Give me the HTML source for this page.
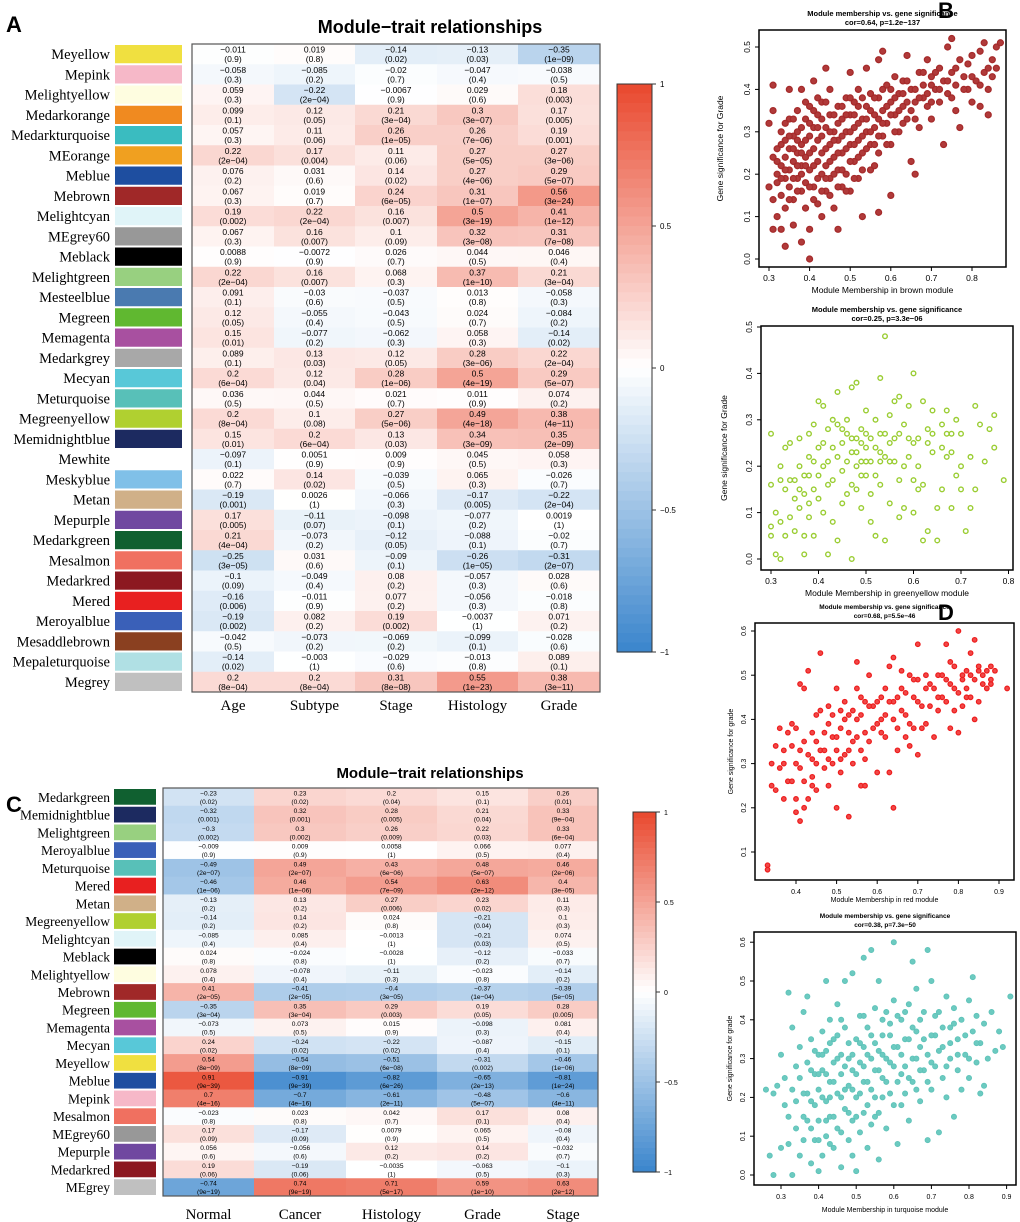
<!DOCTYPE html>
<html><head><meta charset="utf-8">
<style>
html,body{margin:0;padding:0;background:#fff;}
svg{display:block;font-family:"Liberation Sans",Arial,sans-serif;}
</style></head>
<body>
<svg id="fig" width="1020" height="1222" viewBox="0 0 1020 1222" xmlns="http://www.w3.org/2000/svg">
<rect width="1020" height="1222" fill="#fff"/>
<text x="6" y="32" font-size="22" font-weight="bold">A</text>
<text x="938" y="18" font-size="22" font-weight="bold">B</text>
<text x="6" y="812" font-size="22" font-weight="bold">C</text>
<text x="938" y="620" font-size="22" font-weight="bold">D</text>
<g id="gA"></g>
<g id="gC"></g>
<g id="gS"></g>
</svg>
<script>
// ---------- Panel A data ----------
const aModules=["Meyellow","Mepink","Melightyellow","Medarkorange","Medarkturquoise","MEorange","Meblue","Mebrown","Melightcyan","MEgrey60","Meblack","Melightgreen","Mesteelblue","Megreen","Memagenta","Medarkgrey","Mecyan","Meturquoise","Megreenyellow","Memidnightblue","Mewhite","Meskyblue","Metan","Mepurple","Medarkgreen","Mesalmon","Medarkred","Mered","Meroyalblue","Mesaddlebrown","Mepaleturquoise","Megrey"];
const aSwatches=["#f0e040","#f6b8c8","#fefde0","#f08a20","#3abcc0","#f0a020","#1e4ea0","#a02828","#e0f4f8","#989898","#000000","#98d080","#4a7ab0","#60b830","#a850a0","#a8a8a8","#58c8d8","#58c0b8","#b0d030","#1c2a60","#ffffff","#80c0e8","#d0b088","#7048a0","#106030","#f07060","#8c1820","#e82020","#3a60b8","#8a4020","#b0e0e4","#c0c0c0"];
const aTraits=["Age","Subtype","Stage","Histology","Grade"];
const aCor=[
[-0.011,0.019,-0.14,-0.13,-0.35],[-0.058,-0.085,-0.02,-0.047,-0.038],[0.059,-0.22,-0.0067,0.029,0.18],[0.099,0.12,0.21,0.3,0.17],
[0.057,0.11,0.26,0.26,0.19],[0.22,0.17,0.11,0.27,0.27],[0.076,0.031,0.14,0.27,0.29],[0.067,0.019,0.24,0.31,0.56],
[0.19,0.22,0.16,0.5,0.41],[0.067,0.16,0.1,0.32,0.31],[0.0088,-0.0072,0.026,0.044,0.046],[0.22,0.16,0.068,0.37,0.21],
[0.091,-0.03,-0.037,0.013,-0.058],[0.12,-0.055,-0.043,0.024,-0.084],[0.15,-0.077,-0.062,0.058,-0.14],[0.089,0.13,0.12,0.28,0.22],
[0.2,0.12,0.28,0.5,0.29],[0.036,0.044,0.021,0.011,0.074],[0.2,0.1,0.27,0.49,0.38],[0.15,0.2,0.13,0.34,0.35],
[-0.097,0.0051,0.009,0.045,0.058],[0.022,0.14,-0.039,0.065,-0.026],[-0.19,0.0026,-0.066,-0.17,-0.22],[0.17,-0.11,-0.098,-0.077,0.0019],
[0.21,-0.073,-0.12,-0.088,-0.02],[-0.25,0.031,-0.09,-0.26,-0.31],[-0.1,-0.049,0.08,-0.057,0.028],[-0.16,-0.011,0.077,-0.056,-0.018],
[-0.19,0.082,0.19,-0.0037,0.071],[-0.042,-0.073,-0.069,-0.099,-0.028],[-0.14,-0.003,-0.029,-0.013,0.089],[0.2,0.2,0.31,0.55,0.38]];
const aP=[
["0.9","0.8","0.02","0.03","1e-09"],["0.3","0.2","0.7","0.4","0.5"],["0.3","2e-04","0.9","0.6","0.003"],["0.1","0.05","3e-04","3e-07","0.005"],
["0.3","0.06","1e-05","7e-06","0.001"],["2e-04","0.004","0.06","5e-05","3e-06"],["0.2","0.6","0.02","4e-06","5e-07"],["0.3","0.7","6e-05","1e-07","3e-24"],
["0.002","2e-04","0.007","3e-19","1e-12"],["0.3","0.007","0.09","3e-08","7e-08"],["0.9","0.9","0.7","0.5","0.4"],["2e-04","0.007","0.3","1e-10","3e-04"],
["0.1","0.6","0.5","0.8","0.3"],["0.05","0.4","0.5","0.7","0.2"],["0.01","0.2","0.3","0.3","0.02"],["0.1","0.03","0.05","3e-06","2e-04"],
["6e-04","0.04","1e-06","4e-19","5e-07"],["0.5","0.5","0.7","0.9","0.2"],["8e-04","0.08","5e-06","4e-18","4e-11"],["0.01","6e-04","0.03","3e-09","2e-09"],
["0.1","0.9","0.9","0.5","0.3"],["0.7","0.02","0.5","0.3","0.7"],["0.001","1","0.3","0.005","2e-04"],["0.005","0.07","0.1","0.2","1"],
["4e-04","0.2","0.05","0.1","0.7"],["3e-05","0.6","0.1","1e-05","2e-07"],["0.09","0.4","0.2","0.3","0.6"],["0.006","0.9","0.2","0.3","0.8"],
["0.002","0.2","0.002","1","0.2"],["0.5","0.2","0.2","0.1","0.6"],["0.02","1","0.6","0.8","0.1"],["8e-04","8e-04","8e-08","1e-23","3e-11"]];
const scaleTicks=["1","0.5","0","-0.5","-1"];

// ---------- Panel C data ----------
const cModules=["Medarkgreen","Memidnightblue","Melightgreen","Meroyalblue","Meturquoise","Mered","Metan","Megreenyellow","Melightcyan","Meblack","Melightyellow","Mebrown","Megreen","Memagenta","Mecyan","Meyellow","Meblue","Mepink","Mesalmon","MEgrey60","Mepurple","Medarkred","MEgrey"];
const cSwatches=["#106030","#1c2a60","#98d080","#3a60b8","#58c0b8","#e82020","#d0b088","#b0d030","#e0f4f8","#000000","#fefde0","#a02828","#60b830","#a850a0","#58c8d8","#f0e040","#1e4ea0","#f6b8c8","#f07060","#989898","#7048a0","#8c1820","#c0c0c0"];
const cTraits=["Normal","Cancer","Histology","Grade","Stage"];
const cCor=[
[-0.23,0.23,0.2,0.15,0.26],[-0.32,0.32,0.28,0.21,0.33],[-0.3,0.3,0.26,0.22,0.33],[-0.009,0.009,0.0058,0.066,0.077],
[-0.49,0.49,0.43,0.48,0.46],[-0.46,0.46,0.54,0.63,0.4],[-0.13,0.13,0.27,0.23,0.11],[-0.14,0.14,0.024,-0.21,0.1],
[-0.085,0.085,-0.0013,-0.21,0.074],[0.024,-0.024,-0.0028,-0.12,-0.033],[0.078,-0.078,-0.11,-0.023,-0.14],[0.41,-0.41,-0.4,-0.37,-0.39],
[-0.35,0.35,0.29,0.19,0.28],[-0.073,0.073,0.015,-0.098,0.081],[0.24,-0.24,-0.22,-0.087,-0.15],[0.54,-0.54,-0.51,-0.31,-0.46],
[0.91,-0.91,-0.82,-0.65,-0.81],[0.7,-0.7,-0.61,-0.48,-0.6],[-0.023,0.023,0.042,0.17,0.08],[0.17,-0.17,0.0079,0.065,-0.08],
[0.056,-0.056,0.12,0.14,-0.032],[0.19,-0.19,-0.0035,-0.063,-0.1],[-0.74,0.74,0.71,0.59,0.63]];
const cP=[
["0.02","0.02","0.04","0.1","0.01"],["0.001","0.001","0.005","0.04","9e-04"],["0.002","0.002","0.009","0.03","6e-04"],["0.9","0.9","1","0.5","0.4"],
["2e-07","2e-07","6e-06","5e-07","2e-06"],["1e-06","1e-06","7e-09","2e-12","3e-05"],["0.2","0.2","0.006","0.02","0.3"],["0.2","0.2","0.8","0.04","0.3"],
["0.4","0.4","1","0.03","0.5"],["0.8","0.8","1","0.2","0.7"],["0.4","0.4","0.3","0.8","0.2"],["2e-05","2e-05","3e-05","1e-04","5e-05"],
["3e-04","3e-04","0.003","0.05","0.005"],["0.5","0.5","0.9","0.3","0.4"],["0.02","0.02","0.02","0.4","0.1"],["8e-09","8e-09","6e-08","0.002","1e-06"],
["9e-39","9e-39","6e-26","2e-13","1e-24"],["4e-16","4e-16","2e-11","5e-07","4e-11"],["0.8","0.8","0.7","0.1","0.4"],["0.09","0.09","0.9","0.5","0.4"],
["0.6","0.6","0.2","0.2","0.7"],["0.06","0.06","1","0.5","0.3"],["9e-19","9e-19","5e-17","1e-10","2e-12"]];

// ---------- Scatter data ----------
const brownPts=[[0.30,0.17],[0.30,0.32],[0.31,0.24],[0.31,0.14],[0.31,0.07],[0.31,0.35],[0.31,0.41],[0.32,0.20],[0.32,0.26],[0.32,0.18],[0.32,0.10],[0.33,0.30],[0.33,0.22],[0.33,0.15],[0.33,0.07],[0.34,0.28],[0.34,0.24],[0.34,0.19],[0.34,0.12],[0.34,0.03],[0.35,0.33],[0.35,0.26],[0.35,0.21],[0.35,0.17],[0.35,0.40],[0.36,0.29],[0.36,0.23],[0.36,0.14],[0.36,0.08],[0.37,0.35],[0.37,0.25],[0.37,0.19],[0.37,0.30],[0.38,0.22],[0.38,0.16],[0.38,0.27],[0.38,0.40],[0.38,0.04],[0.39,0.33],[0.39,0.24],[0.39,0.18],[0.39,0.12],[0.40,0.29],[0.40,0.21],[0.40,0.36],[0.40,0.00],[0.40,0.07],[0.41,0.26],[0.41,0.31],[0.41,0.17],[0.41,0.42],[0.42,0.23],[0.42,0.34],[0.42,0.13],[0.42,0.28],[0.43,0.20],[0.43,0.37],[0.43,0.25],[0.43,0.10],[0.44,0.31],[0.44,0.45],[0.44,0.22],[0.44,0.16],[0.45,0.34],[0.45,0.27],[0.45,0.19],[0.45,0.40],[0.46,0.30],[0.46,0.24],[0.46,0.12],[0.47,0.36],[0.47,0.21],[0.47,0.28],[0.47,0.07],[0.48,0.33],[0.48,0.17],[0.48,0.25],[0.49,0.38],[0.49,0.30],[0.49,0.20],[0.50,0.27],[0.50,0.34],[0.50,0.44],[0.50,0.16],[0.51,0.31],[0.51,0.23],[0.51,0.37],[0.52,0.28],[0.52,0.40],[0.52,0.19],[0.53,0.33],[0.53,0.25],[0.53,0.10],[0.54,0.36],[0.54,0.30],[0.54,0.45],[0.55,0.27],[0.55,0.39],[0.55,0.21],[0.56,0.34],[0.56,0.31],[0.57,0.47],[0.57,0.38],[0.57,0.25],[0.57,0.11],[0.58,0.49],[0.58,0.35],[0.58,0.29],[0.59,0.41],[0.59,0.32],[0.60,0.37],[0.60,0.27],[0.60,0.15],[0.61,0.43],[0.61,0.34],[0.62,0.39],[0.62,0.30],[0.63,0.36],[0.63,0.42],[0.64,0.48],[0.64,0.33],[0.65,0.40],[0.65,0.23],[0.66,0.37],[0.66,0.20],[0.67,0.44],[0.67,0.31],[0.68,0.41],[0.68,0.38],[0.69,0.36],[0.69,0.47],[0.70,0.43],[0.70,0.33],[0.71,0.40],[0.72,0.45],[0.72,0.37],[0.73,0.42],[0.73,0.27],[0.74,0.50],[0.74,0.39],[0.75,0.52],[0.75,0.44],[0.76,0.41],[0.76,0.35],[0.77,0.47],[0.77,0.31],[0.78,0.43],[0.79,0.40],[0.79,0.46],[0.80,0.48],[0.80,0.37],[0.81,0.42],[0.82,0.49],[0.82,0.36],[0.83,0.51],[0.83,0.44],[0.84,0.40],[0.84,0.34],[0.85,0.47],[0.85,0.43],[0.86,0.50],[0.86,0.45],[0.87,0.51]];
const brownPts2=[[0.32,0.23],[0.33,0.27],[0.33,0.19],[0.34,0.21],[0.34,0.32],[0.35,0.14],[0.35,0.29],[0.36,0.19],[0.36,0.26],[0.36,0.33],[0.37,0.22],[0.37,0.16],[0.37,0.28],[0.38,0.31],[0.38,0.20],[0.38,0.25],[0.39,0.22],[0.39,0.28],[0.39,0.37],[0.40,0.25],[0.40,0.17],[0.40,0.32],[0.41,0.22],[0.41,0.35],[0.41,0.14],[0.42,0.19],[0.42,0.31],[0.42,0.38],[0.43,0.29],[0.43,0.16],[0.43,0.33],[0.44,0.26],[0.44,0.19],[0.44,0.37],[0.45,0.23],[0.45,0.30],[0.45,0.15],[0.46,0.34],[0.46,0.20],[0.46,0.28],[0.47,0.25],[0.47,0.32],[0.47,0.17],[0.48,0.29],[0.48,0.21],[0.48,0.36],[0.49,0.26],[0.49,0.34],[0.49,0.16],[0.50,0.30],[0.50,0.23],[0.50,0.38],[0.51,0.27],[0.51,0.34],[0.51,0.19],[0.52,0.32],[0.52,0.24],[0.52,0.36],[0.53,0.29],[0.53,0.38],[0.53,0.21],[0.54,0.33],[0.54,0.26],[0.55,0.35],[0.55,0.30],[0.56,0.38],[0.56,0.27],[0.56,0.22],[0.57,0.33],[0.57,0.29],[0.58,0.40],[0.58,0.32],[0.59,0.36],[0.59,0.27],[0.60,0.34],[0.60,0.40],[0.61,0.30],[0.61,0.38],[0.62,0.35],[0.63,0.32],[0.63,0.39],[0.64,0.37],[0.64,0.42],[0.65,0.35],[0.66,0.40],[0.66,0.33],[0.67,0.38],[0.68,0.44],[0.69,0.39],[0.70,0.41],[0.70,0.37],[0.71,0.44],[0.72,0.40],[0.74,0.42],[0.75,0.38],[0.76,0.45],[0.78,0.40],[0.80,0.43],[0.82,0.41],[0.84,0.45]];
const greenPts=[[0.30,0.16],[0.30,0.07],[0.30,0.05],[0.30,0.27],[0.31,0.01],[0.31,0.10],[0.32,0.17],[0.32,0.08],[0.32,0.00],[0.32,0.20],[0.33,0.15],[0.33,0.24],[0.33,0.05],[0.34,0.09],[0.34,0.25],[0.35,0.13],[0.35,0.06],[0.35,0.17],[0.36,0.26],[0.36,0.11],[0.36,0.20],[0.37,0.05],[0.37,0.14],[0.37,0.01],[0.38,0.18],[0.38,0.27],[0.38,0.09],[0.38,0.12],[0.39,0.29],[0.39,0.21],[0.39,0.15],[0.39,0.05],[0.40,0.24],[0.40,0.34],[0.40,0.13],[0.41,0.20],[0.41,0.10],[0.41,0.33],[0.42,0.28],[0.42,0.01],[0.42,0.16],[0.43,0.24],[0.43,0.30],[0.43,0.08],[0.44,0.22],[0.44,0.36],[0.44,0.04],[0.45,0.12],[0.45,0.28],[0.45,0.19],[0.46,0.27],[0.46,0.14],[0.47,0.37],[0.47,0.23],[0.47,0.00],[0.47,0.16],[0.48,0.26],[0.48,0.38],[0.48,0.20],[0.49,0.25],[0.49,0.18],[0.49,0.11],[0.50,0.32],[0.50,0.21],[0.50,0.27],[0.51,0.08],[0.51,0.14],[0.52,0.24],[0.52,0.30],[0.52,0.05],[0.53,0.39],[0.53,0.16],[0.53,0.23],[0.54,0.48],[0.54,0.27],[0.54,0.04],[0.55,0.21],[0.55,0.31],[0.55,0.12],[0.56,0.34],[0.56,0.26],[0.57,0.17],[0.57,0.35],[0.57,0.09],[0.58,0.29],[0.58,0.11],[0.59,0.22],[0.59,0.33],[0.60,0.40],[0.60,0.17],[0.60,0.10],[0.61,0.26],[0.61,0.20],[0.62,0.34],[0.62,0.04],[0.62,0.16],[0.63,0.28],[0.63,0.06],[0.64,0.32],[0.64,0.23],[0.65,0.11],[0.65,0.04],[0.66,0.29],[0.66,0.15],[0.67,0.22],[0.67,0.32],[0.68,0.27],[0.68,0.11],[0.69,0.30],[0.69,0.18],[0.70,0.20],[0.70,0.15],[0.71,0.06],[0.72,0.22],[0.72,0.11],[0.73,0.33],[0.73,0.15],[0.74,0.29],[0.75,0.21],[0.76,0.28],[0.77,0.24],[0.77,0.31],[0.79,0.17]];
const greenPts2=[[0.34,0.17],[0.36,0.15],[0.37,0.18],[0.38,0.22],[0.40,0.18],[0.41,0.25],[0.42,0.21],[0.43,0.17],[0.44,0.29],[0.45,0.25],[0.46,0.21],[0.46,0.30],[0.47,0.26],[0.48,0.23],[0.48,0.15],[0.49,0.28],[0.49,0.21],[0.50,0.24],[0.50,0.18],[0.51,0.26],[0.51,0.21],[0.52,0.18],[0.53,0.27],[0.53,0.21],[0.54,0.22],[0.55,0.25],[0.56,0.21],[0.57,0.27],[0.58,0.20],[0.59,0.26],[0.60,0.25],[0.61,0.15],[0.63,0.25],[0.64,0.27],[0.66,0.24],[0.67,0.27],[0.68,0.23],[0.70,0.27]];
const redPts=[[0.33,0.07],[0.33,0.06],[0.34,0.30],[0.34,0.25],[0.35,0.24],[0.35,0.34],[0.36,0.29],[0.36,0.38],[0.37,0.30],[0.37,0.22],[0.38,0.26],[0.38,0.37],[0.39,0.39],[0.39,0.34],[0.40,0.30],[0.40,0.19],[0.40,0.22],[0.40,0.38],[0.41,0.17],[0.41,0.33],[0.41,0.48],[0.41,0.29],[0.42,0.47],[0.42,0.26],[0.42,0.20],[0.43,0.32],[0.43,0.51],[0.43,0.22],[0.44,0.37],[0.44,0.31],[0.44,0.27],[0.45,0.24],[0.45,0.35],[0.45,0.41],[0.46,0.33],[0.46,0.42],[0.46,0.55],[0.47,0.29],[0.47,0.37],[0.48,0.43],[0.48,0.25],[0.48,0.31],[0.49,0.36],[0.49,0.41],[0.50,0.20],[0.50,0.47],[0.50,0.33],[0.51,0.38],[0.51,0.28],[0.51,0.42],[0.52,0.32],[0.52,0.44],[0.53,0.18],[0.53,0.37],[0.53,0.41],[0.54,0.30],[0.54,0.35],[0.55,0.47],[0.55,0.53],[0.55,0.40],[0.56,0.25],[0.56,0.33],[0.57,0.44],[0.57,0.37],[0.57,0.25],[0.58,0.50],[0.58,0.35],[0.59,0.43],[0.60,0.28],[0.60,0.39],[0.61,0.45],[0.61,0.37],[0.62,0.47],[0.62,0.41],[0.63,0.52],[0.63,0.28],[0.64,0.44],[0.64,0.54],[0.64,0.20],[0.65,0.38],[0.65,0.33],[0.66,0.47],[0.66,0.51],[0.67,0.36],[0.67,0.41],[0.68,0.50],[0.68,0.34],[0.69,0.45],[0.69,0.38],[0.70,0.49],[0.70,0.57],[0.70,0.32],[0.71,0.43],[0.72,0.39],[0.72,0.47],[0.73,0.48],[0.74,0.36],[0.75,0.42],[0.75,0.50],[0.76,0.45],[0.77,0.57],[0.77,0.49],[0.78,0.38],[0.78,0.53],[0.79,0.47],[0.79,0.42],[0.80,0.60],[0.80,0.37],[0.81,0.43],[0.81,0.49],[0.82,0.51],[0.82,0.45],[0.83,0.55],[0.83,0.50],[0.84,0.58],[0.84,0.40],[0.85,0.51],[0.85,0.44],[0.86,0.50],[0.87,0.47],[0.88,0.52],[0.88,0.48],[0.89,0.51],[0.92,0.47]];
const redPts2=[[0.37,0.33],[0.39,0.26],[0.42,0.35],[0.44,0.25],[0.45,0.30],[0.47,0.33],[0.48,0.39],[0.49,0.30],[0.50,0.36],[0.51,0.31],[0.52,0.40],[0.53,0.33],[0.54,0.42],[0.55,0.36],[0.56,0.41],[0.56,0.45],[0.57,0.31],[0.58,0.43],[0.59,0.38],[0.60,0.44],[0.61,0.40],[0.62,0.36],[0.63,0.44],[0.64,0.40],[0.65,0.45],[0.66,0.42],[0.67,0.46],[0.68,0.39],[0.69,0.49],[0.70,0.44],[0.71,0.38],[0.72,0.50],[0.73,0.43],[0.74,0.47],[0.75,0.45],[0.76,0.50],[0.77,0.44],[0.78,0.48],[0.79,0.52],[0.80,0.46],[0.81,0.50],[0.82,0.47],[0.83,0.45],[0.84,0.49],[0.85,0.52],[0.86,0.48],[0.87,0.51],[0.88,0.49]];
const turqPts=[[0.26,0.22],[0.27,0.05],[0.28,0.21],[0.28,0.00],[0.29,0.23],[0.30,0.31],[0.30,0.07],[0.31,0.18],[0.31,0.25],[0.32,0.15],[0.32,0.47],[0.32,0.08],[0.33,0.22],[0.33,0.38],[0.33,0.00],[0.34,0.28],[0.34,0.12],[0.34,0.19],[0.35,0.05],[0.35,0.33],[0.35,0.25],[0.36,0.15],[0.36,0.42],[0.36,0.09],[0.37,0.29],[0.37,0.46],[0.37,0.21],[0.38,0.12],[0.38,0.35],[0.38,0.03],[0.39,0.26],[0.39,0.18],[0.39,0.09],[0.40,0.31],[0.40,0.22],[0.40,0.01],[0.40,0.14],[0.41,0.37],[0.41,0.27],[0.41,0.05],[0.42,0.19],[0.42,0.50],[0.42,0.32],[0.42,0.10],[0.43,0.24],[0.43,0.40],[0.43,0.15],[0.44,0.29],[0.44,0.07],[0.44,0.35],[0.45,0.21],[0.45,0.44],[0.45,0.12],[0.46,0.31],[0.46,0.26],[0.46,0.02],[0.47,0.38],[0.47,0.17],[0.47,0.50],[0.48,0.23],[0.48,0.30],[0.48,0.09],[0.49,0.27],[0.49,0.14],[0.49,0.52],[0.50,0.35],[0.50,0.20],[0.50,0.01],[0.51,0.29],[0.51,0.41],[0.51,0.11],[0.52,0.24],[0.52,0.56],[0.52,0.33],[0.53,0.18],[0.53,0.38],[0.53,0.07],[0.54,0.30],[0.54,0.58],[0.54,0.22],[0.55,0.43],[0.55,0.15],[0.55,0.34],[0.56,0.27],[0.56,0.50],[0.56,0.04],[0.57,0.31],[0.57,0.20],[0.57,0.40],[0.58,0.24],[0.58,0.12],[0.59,0.36],[0.59,0.29],[0.60,0.45],[0.60,0.18],[0.60,0.60],[0.61,0.33],[0.61,0.08],[0.62,0.26],[0.62,0.40],[0.63,0.21],[0.63,0.35],[0.64,0.44],[0.64,0.14],[0.65,0.30],[0.65,0.55],[0.65,0.24],[0.66,0.37],[0.66,0.48],[0.67,0.19],[0.67,0.33],[0.68,0.27],[0.68,0.42],[0.69,0.09],[0.69,0.58],[0.69,0.31],[0.70,0.22],[0.70,0.50],[0.71,0.36],[0.71,0.28],[0.72,0.42],[0.72,0.11],[0.73,0.25],[0.73,0.33],[0.74,0.46],[0.74,0.20],[0.75,0.38],[0.75,0.30],[0.76,0.15],[0.76,0.43],[0.77,0.27],[0.77,0.35],[0.78,0.22],[0.78,0.40],[0.79,0.31],[0.80,0.45],[0.80,0.25],[0.81,0.37],[0.81,0.51],[0.82,0.29],[0.82,0.41],[0.83,0.21],[0.83,0.34],[0.84,0.39],[0.84,0.23],[0.85,0.30],[0.86,0.42],[0.87,0.32],[0.88,0.37],[0.89,0.33],[0.91,0.46]];
const turqPts2=[[0.36,0.21],[0.37,0.14],[0.38,0.27],[0.38,0.19],[0.39,0.32],[0.40,0.26],[0.40,0.09],[0.41,0.20],[0.41,0.31],[0.42,0.14],[0.42,0.26],[0.43,0.34],[0.43,0.20],[0.43,0.08],[0.44,0.24],[0.44,0.15],[0.45,0.30],[0.45,0.36],[0.46,0.20],[0.46,0.11],[0.46,0.40],[0.47,0.28],[0.47,0.22],[0.48,0.34],[0.48,0.16],[0.49,0.31],[0.49,0.22],[0.49,0.05],[0.50,0.26],[0.50,0.15],[0.51,0.34],[0.51,0.21],[0.52,0.28],[0.52,0.16],[0.52,0.41],[0.53,0.31],[0.53,0.24],[0.54,0.36],[0.54,0.13],[0.55,0.27],[0.55,0.20],[0.56,0.32],[0.56,0.16],[0.57,0.36],[0.57,0.25],[0.58,0.30],[0.58,0.42],[0.59,0.21],[0.59,0.39],[0.60,0.28],[0.60,0.33],[0.61,0.24],[0.61,0.41],[0.62,0.31],[0.62,0.18],[0.63,0.28],[0.63,0.42],[0.64,0.35],[0.64,0.25],[0.65,0.38],[0.66,0.30],[0.66,0.22],[0.67,0.40],[0.67,0.27],[0.68,0.35],[0.69,0.24],[0.70,0.36],[0.70,0.29],[0.71,0.41],[0.72,0.32],[0.73,0.38],[0.74,0.28],[0.75,0.34],[0.76,0.39],[0.77,0.31],[0.79,0.36],[0.80,0.30],[0.82,0.34]];
const brownX=["0.3","0.4","0.5","0.6","0.7","0.8"], brownY=["0.0","0.1","0.2","0.3","0.4","0.5"];
const greenX=["0.3","0.4","0.5","0.6","0.7","0.8"], greenY=["0.0","0.1","0.2","0.3","0.4","0.5"];
const redX=["0.4","0.5","0.6","0.7","0.8","0.9"], redY=["0.1","0.2","0.3","0.4","0.5","0.6"];
const turqX=["0.3","0.4","0.5","0.6","0.7","0.8","0.9"], turqY=["0.0","0.1","0.2","0.3","0.4","0.5","0.6"];

const NS="http://www.w3.org/2000/svg";
function mk(parent,tag,attrs,txt){const e=document.createElementNS(NS,tag);for(const k in attrs)e.setAttribute(k,attrs[k]);if(txt!==undefined)e.textContent=txt;parent.appendChild(e);return e;}
function col(v){
  const t=Math.min(1,Math.abs(v));
  const c=v>=0?[233,72,45]:[58,133,204];
  const r=Math.round(255+(c[0]-255)*t),g=Math.round(255+(c[1]-255)*t),b=Math.round(255+(c[2]-255)*t);
  return `rgb(${r},${g},${b})`;
}

function heatmap(g,o){
  const n=o.mods.length, rh=(o.y1-o.y0)/n;
  const t=mk(g,'text',{x:o.titleX,y:o.titleY,'font-size':o.titleSize,'font-weight':'bold','text-anchor':'middle'},'Module\u2212trait relationships');
  
  
  o.mods.forEach((m,i)=>{
    const y=o.y0+i*rh;
    const lb=mk(g,'text',{x:o.labelX,y:y+rh/2+5,'font-size':o.labelSize,'text-anchor':'end','font-family':'"Liberation Serif",serif'},m);
    
    
    const sw=mk(g,'rect',{x:o.swX,y:y+1,width:o.swW,height:rh-2,fill:o.sw[i]});
    
    
    for(let j=0;j<5;j++){
      const x=o.colX[j], w=o.colX[j+1]-o.colX[j];
      const c=mk(g,'rect',{x:x,y:y,width:w+0.5,height:rh+0.5,fill:col(o.cor[i][j])});
      
      
      const cx=x+w/2;
      const v=mk(g,'text',{x:cx,y:y+rh*0.42,'font-size':o.cellSize,'text-anchor':'middle'},String(o.cor[i][j]).replace('-','\u2212'));
      
      
      const p=mk(g,'text',{x:cx,y:y+rh*0.9,'font-size':o.cellSize,'text-anchor':'middle'},'('+o.p[i][j].replace('-','\u2212')+')');
      
      
    }
  });
  const fr=mk(g,'rect',{x:o.colX[0],y:o.y0,width:o.colX[5]-o.colX[0],height:o.y1-o.y0,fill:'none',stroke:'#555','stroke-width':1.2});
  
  
  o.traits.forEach((tr,j)=>{
    const e=mk(g,'text',{x:(o.colX[j]+o.colX[j+1])/2,y:o.traitY,'font-size':o.traitSize,'text-anchor':'middle','font-family':'"Liberation Serif",serif'},tr);
    
    
  });
  const cb=o.cb, N=60, h=(cb.y1-cb.y0)/N;
  for(let k=0;k<N;k++){
    const v=1-(k+0.5)/N*2;
    const r=mk(g,'rect',{x:cb.x,y:cb.y0+k*h,width:cb.w,height:h+0.6,fill:col(v)});
    
    
  }
  const cf=mk(g,'rect',{x:cb.x,y:cb.y0,width:cb.w,height:cb.y1-cb.y0,fill:'none',stroke:'#333','stroke-width':1});
  
  
  scaleTicks.forEach((s,k)=>{
    const y=cb.y0+k*(cb.y1-cb.y0)/4;
    mk(g,'line',{x1:cb.x+cb.w,x2:cb.x+cb.w+4,y1:y,y2:y,stroke:'#333'});
    const e=mk(g,'text',{x:cb.x+cb.w+8,y:y+3,'font-size':o.cbSize},s.replace('-','\u2212'));
    
    
  });
}
heatmap(document.getElementById('gA'),{mods:aModules,sw:aSwatches,cor:aCor,p:aP,traits:aTraits,
  y0:44,y1:692,colX:[192,274,355,437,518,600],labelX:110,labelSize:14.5,swX:115,swW:67,cellSize:8.5,
  titleX:430,titleY:33,titleSize:18,traitY:710,traitSize:15,cb:{x:617,w:35,y0:84,y1:652},cbSize:8});
heatmap(document.getElementById('gC'),{mods:cModules,sw:cSwatches,cor:cCor,p:cP,traits:cTraits,
  y0:788,y1:1196,colX:[163,254,346,437,528,598],labelX:110,labelSize:13.5,swX:114,swW:42,cellSize:6.6,
  titleX:430,titleY:778,titleSize:15,traitY:1219,traitSize:15,cb:{x:633,w:23,y0:812,y1:1172},cbSize:7});

function scatter(g,o){
  const X=v=>o.x0+(v-o.xv0)/0.1*o.xs, Y=v=>o.y0-(v-o.yv0)/0.1*o.ys;
  const pg=mk(g,'g',{});
  
  
  o.pts.forEach(p=>{
    const c=mk(pg,'circle',{cx:X(p[0]),cy:Y(p[1]),r:o.r,fill:o.fill,stroke:o.color,'stroke-width':o.sw});
    
    
  });
  const f=mk(g,'rect',{x:o.fx0,y:o.fy0,width:o.fx1-o.fx0,height:o.fy1-o.fy0,fill:'none',stroke:'#000','stroke-width':1.5});
  
  
  o.xt.forEach(s=>{const x=X(parseFloat(s));
    mk(g,'line',{x1:x,x2:x,y1:o.fy1,y2:o.fy1+4,stroke:'#000'});
    const e=mk(g,'text',{x:x,y:o.fy1+14,'font-size':o.fs,'text-anchor':'middle'},s);
    
    });
  o.yt.forEach(s=>{const y=Y(parseFloat(s));
    mk(g,'line',{x1:o.fx0-4,x2:o.fx0,y1:y,y2:y,stroke:'#000'});
    const e=mk(g,'text',{x:o.fx0-9,y:y,'font-size':o.fs,'text-anchor':'middle',transform:`rotate(-90 ${o.fx0-9} ${y})`},s);
    
    });
  const cx=(o.fx0+o.fx1)/2;
  const t1=mk(g,'text',{x:cx,y:o.fy0-14,'font-size':o.tfs,'font-weight':'bold','text-anchor':'middle'},'Module membership vs. gene significance');
  
  
  const t2=mk(g,'text',{x:cx,y:o.fy0-5,'font-size':o.tfs,'font-weight':'bold','text-anchor':'middle'},o.sub);
  
  
  const xl=mk(g,'text',{x:cx,y:o.fy1+o.xlOff,'font-size':o.fs,'text-anchor':'middle'},o.xl);
  
  
  const yc=(o.fy0+o.fy1)/2;
  const yl=mk(g,'text',{x:o.ylx,y:yc,'font-size':o.fs,'text-anchor':'middle',transform:`rotate(-90 ${o.ylx} ${yc})`},o.yl);
  
  
}
const gS=document.getElementById('gS');
scatter(gS,{name:'brown-scatter',pts:brownPts.concat(brownPts2),color:'#a52a2a',fill:'#b03a3a',r:3,sw:1.2,x0:769,xv0:0.3,xs:40.6,y0:259,yv0:0,ys:42.4,
  fx0:759,fx1:1006,fy0:30,fy1:267,xt:brownX,yt:brownY,fs:8.5,tfs:7.5,sub:'cor=0.64, p=1.2e\u2212137',xl:'Module Membership in brown module',xlOff:26,yl:'Gene significance for Grade',ylx:723});
scatter(gS,{name:'greenyellow-scatter',pts:greenPts.concat(greenPts2),color:'#9acd32',fill:'#fff',r:2.3,sw:1.4,x0:771,xv0:0.3,xs:47.5,y0:559,yv0:0,ys:46.4,
  fx0:761,fx1:1013,fy0:326,fy1:570,xt:greenX,yt:greenY,fs:8.5,tfs:7.5,sub:'cor=0.25, p=3.3e\u221206',xl:'Module Membership in greenyellow module',xlOff:26,yl:'Gene significance for Grade',ylx:727});
scatter(gS,{name:'red-scatter',pts:redPts.concat(redPts2),color:'#ee1c1c',fill:'#f04848',r:2.3,sw:1.2,x0:796,xv0:0.4,xs:40.6,y0:852,yv0:0.1,ys:44.2,
  fx0:755,fx1:1014,fy0:623,fy1:880,xt:redX,yt:redY,fs:7,tfs:6.5,sub:'cor=0.68, p=5.5e\u221246',xl:'Module Membership in red module',xlOff:22,yl:'Gene significance for grade',ylx:733});
scatter(gS,{name:'turquoise-scatter',pts:turqPts.concat(turqPts2),color:'#5cc2b8',fill:'#6ccac0',r:2.6,sw:0.8,x0:781,xv0:0.3,xs:37.6,y0:1175,yv0:0,ys:38.8,
  fx0:754,fx1:1016,fy0:932,fy1:1185,xt:turqX,yt:turqY,fs:7,tfs:6.5,sub:'cor=0.38, p=7.3e\u221250',xl:'Module Membership in turquoise module',xlOff:27,yl:'Gene significance for grade',ylx:732});
</script>
</body></html>
